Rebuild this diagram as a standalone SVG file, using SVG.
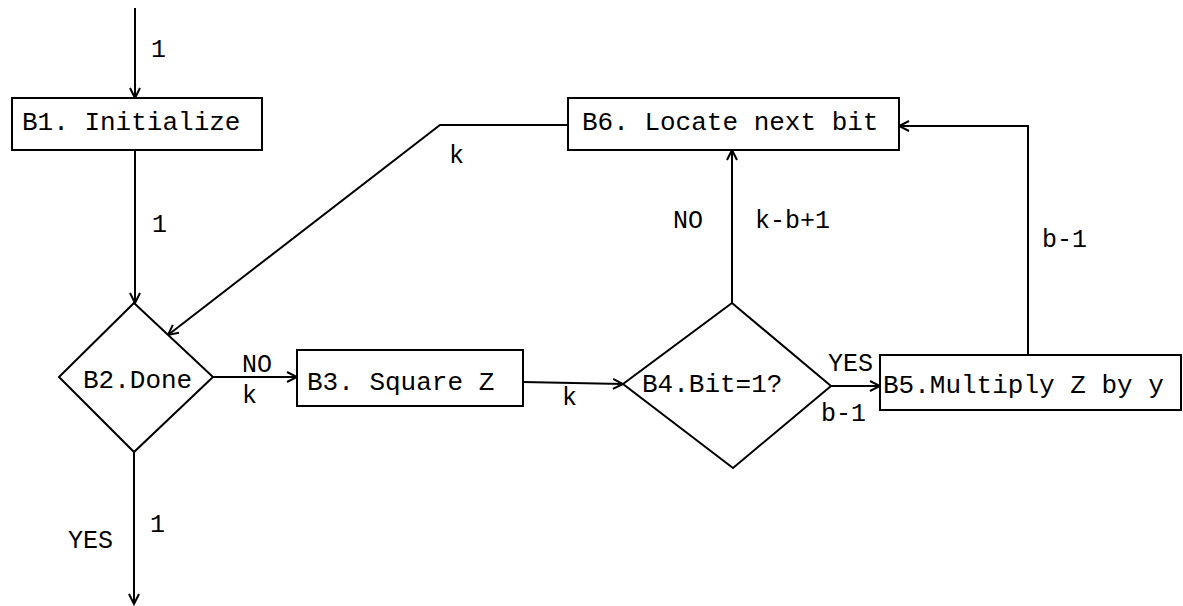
<svg xmlns="http://www.w3.org/2000/svg" width="1183" height="606" viewBox="0 0 1183 606">
  <style>
    .box { fill: #fff; stroke: #000; stroke-width: 2; }
    .edge { fill: none; stroke: #000; stroke-width: 2; }
    .t { font-family: "Liberation Mono", "DejaVu Sans Mono", monospace; font-size: 26px; fill: #000; }
    .l { font-family: "Liberation Mono", "DejaVu Sans Mono", monospace; font-size: 25px; fill: #000; }
  </style>
  <defs>
    <marker id="arr" markerUnits="userSpaceOnUse" markerWidth="14" markerHeight="14" viewBox="-12 -7 14 14" refX="0" refY="0" orient="auto">
      <path d="M -10 -5 L 0 0 L -10 5" fill="none" stroke="#000" stroke-width="2"/>
    </marker>
  </defs>
  <rect width="1183" height="606" fill="#fff"/>

  <g id="connectors">
    <line class="edge" x1="135" y1="8" x2="135" y2="98" marker-end="url(#arr)"/>
    <line class="edge" x1="135" y1="150" x2="135" y2="303" marker-end="url(#arr)"/>
    <polyline class="edge" points="568,125 440,125 168,335" marker-end="url(#arr)"/>
    <line class="edge" x1="213" y1="377" x2="297" y2="377" marker-end="url(#arr)"/>
    <line class="edge" x1="523" y1="382" x2="623" y2="384" marker-end="url(#arr)"/>
    <line class="edge" x1="831" y1="386" x2="880" y2="386" marker-end="url(#arr)"/>
    <line class="edge" x1="732" y1="303" x2="732" y2="150" marker-end="url(#arr)"/>
    <polyline class="edge" points="1028,355 1028,126 899,126" marker-end="url(#arr)"/>
    <line class="edge" x1="134" y1="452" x2="134" y2="604" marker-end="url(#arr)"/>
    <text class="l" x="151" y="57">1</text>
    <text class="l" x="152" y="232">1</text>
    <text class="l" x="449" y="163">k</text>
    <text class="l" x="242" y="372">NO</text>
    <text class="l" x="242" y="403">k</text>
    <text class="l" x="562" y="405">k</text>
    <text class="l" x="673" y="228">NO</text>
    <text class="l" x="755" y="228">k-b+1</text>
    <text class="l" x="828" y="371">YES</text>
    <text class="l" x="821" y="421">b-1</text>
    <text class="l" x="1042" y="247">b-1</text>
    <text class="l" x="68" y="548">YES</text>
    <text class="l" x="150" y="532">1</text>
  </g>

  <g id="B1">
    <rect class="box" x="12" y="98" width="250" height="52"/>
    <text class="t" x="22" y="130">B1. Initialize</text>
  </g>
  <g id="B6">
    <rect class="box" x="568" y="98" width="331" height="52"/>
    <text class="t" x="582" y="130">B6. Locate next bit</text>
  </g>
  <g id="B2">
    <polygon class="box" points="134,303 213,377 134,452 59,377"/>
    <text class="t" x="83" y="388">B2.Done</text>
  </g>
  <g id="B3">
    <rect class="box" x="297" y="350" width="226" height="56"/>
    <text class="t" x="307" y="390">B3. Square Z</text>
  </g>
  <g id="B4">
    <polygon class="box" points="732,303 831,386 733,468 623,384"/>
    <text class="t" x="642" y="392">B4.Bit=1?</text>
  </g>
  <g id="B5">
    <rect class="box" x="880" y="355" width="301" height="55"/>
    <text class="t" x="883" y="393">B5.Multiply Z by y</text>
  </g>
</svg>
